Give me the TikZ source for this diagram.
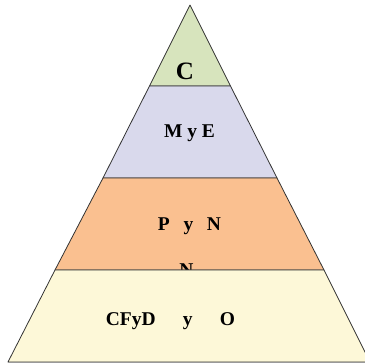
\documentclass[tikz,border=0pt]{standalone}
\usepackage{fontspec}
\setmainfont{Liberation Serif}
\definecolor{topgreen}{HTML}{D7E4BD}
\definecolor{lavender}{HTML}{D9D9EC}
\definecolor{peach}{HTML}{FAC090}
\definecolor{cream}{HTML}{FDF8D8}
\begin{document}
\begin{tikzpicture}[x=1pt, y=-1pt,
  layer/.style={draw=black!80, line width=0.8pt, line join=round},
  every node/.style={font=\bfseries\fontsize{19.5}{22}\selectfont, inner sep=0pt, anchor=base}]
  \useasboundingbox (0,0) rectangle (365,363);
  % Layers
  \filldraw[layer, fill=topgreen] (190,5) -- (230.5,86) -- (149.5,86) -- cycle;
  \filldraw[layer, fill=lavender] (149.5,86) -- (230.5,86) -- (277,178) -- (103,178) -- cycle;
  \filldraw[layer, fill=peach] (103,178) -- (277,178) -- (324,270) -- (55,270) -- cycle;
  \node (cut) at (186.5,276.5) {N};
  \filldraw[layer, fill=cream] (55,270) -- (324,270) -- (370,362) -- (8,362) -- cycle;
  \draw[black!40, line width=0.8pt] (8,362.4) -- (370,362.4);
  % Labels
  \node[font=\bfseries\fontsize{25}{28}\selectfont] (top) at (185,80) {C};
  \node (second) at (189.5,138) {M y E};
  \node (third) at (189.5,231) {P\hspace{0.7em}y\hspace{0.7em}N};
  \node (base) at (170.5,326) {CFyD\hspace{1.4em}y\hspace{1.4em}O};
\end{tikzpicture}
\end{document}
